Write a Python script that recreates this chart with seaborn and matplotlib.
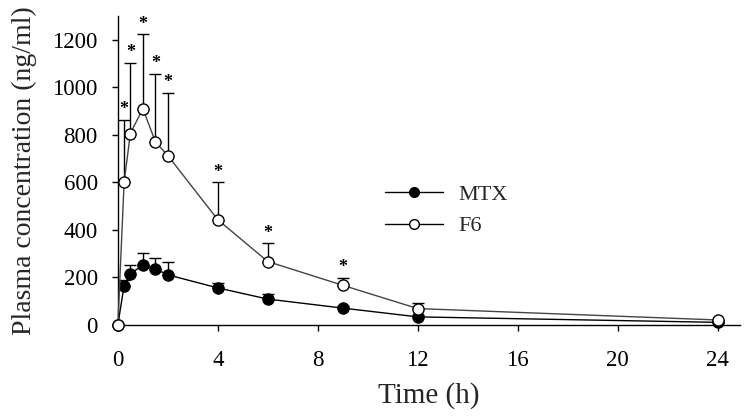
import matplotlib
matplotlib.use("Agg")
import matplotlib.pyplot as plt
from matplotlib.lines import Line2D
import seaborn as sns
import pandas as pd
import numpy as np

time_h = [0, 0.25, 0.5, 1, 1.5, 2, 4, 6, 9, 12, 24]
mtx_mean = [0, 165, 215, 250, 235, 210, 155, 108, 70, 33, 10]
mtx_sd = [0, 22, 38, 52, 48, 53, 20, 20, 8, 10, 0]
f6_mean = [0, 600, 805, 910, 770, 712, 442, 266, 166, 68, 20]
f6_sd = [0, 262, 298, 312, 287, 265, 157, 76, 30, 24, 0]
f6_sig = [False, True, True, True, True, True, True, True, True, False, False]

x_ticks = [0, 4, 8, 12, 16, 20, 24]
y_ticks = [0, 200, 400, 600, 800, 1000, 1200]

sns.set_style("ticks")
plt.rcParams["font.family"] = ["Liberation Serif", "DejaVu Serif"]

df = pd.DataFrame({
    "time": time_h * 2,
    "conc": mtx_mean + f6_mean,
    "group": ["MTX"] * len(time_h) + ["F6"] * len(time_h),
})

fig = plt.figure(figsize=(7.46, 4.19), dpi=100)
ax = fig.add_axes([0.158, 0.225, 0.834, 0.737])

# error bars (upper only)
ax.errorbar(time_h, mtx_mean, yerr=[np.zeros(len(time_h)), mtx_sd], fmt="none",
            ecolor="black", elinewidth=1.0, capsize=4.5, capthick=1.0, zorder=1)
ax.errorbar(time_h, f6_mean, yerr=[np.zeros(len(time_h)), f6_sd], fmt="none",
            ecolor="black", elinewidth=1.0, capsize=4.5, capthick=1.0, zorder=1)

sns.lineplot(data=df[df.group == "MTX"], x="time", y="conc", ax=ax, color="black",
             linewidth=1.0, marker="o", markersize=8, markerfacecolor="black",
             markeredgecolor="black", markeredgewidth=1.0, zorder=3, clip_on=False,
             legend=False)
sns.lineplot(data=df[df.group == "F6"], x="time", y="conc", ax=ax, color="#444444",
             linewidth=1.0, marker="o", markersize=8, markerfacecolor="white",
             markeredgecolor="black", markeredgewidth=1.0, zorder=4, clip_on=False,
             legend=False)

for t, m, s, sig in zip(time_h, f6_mean, f6_sd, f6_sig):
    if sig:
        ax.text(t, m + s + 8, "*", ha="center", va="bottom", fontsize=13,
                fontweight="bold", color="black")

ax.set_xlim(0, 24.9)
ax.set_ylim(0, 1300)
ax.set_xticks(x_ticks)
ax.set_yticks(y_ticks)
ax.tick_params(axis="both", labelsize=16.5, length=4.5, width=1, direction="out", colors="black")
ax.tick_params(axis="y", pad=10)
ax.tick_params(axis="x", pad=14)
for sp in ["top", "right"]:
    ax.spines[sp].set_visible(False)
for sp in ["left", "bottom"]:
    ax.spines[sp].set_linewidth(1.0)
    ax.spines[sp].set_color("black")

ax.set_xlabel("Time (h)", fontsize=21, labelpad=8)
ax.set_ylabel("Plasma concentration (ng/ml)", fontsize=20, labelpad=11)

handles = [
    Line2D([], [], color="black", lw=1.0, marker="o", markersize=7,
           markerfacecolor="black", markeredgecolor="black"),
    Line2D([], [], color="black", lw=1.0, marker="o", markersize=7,
           markerfacecolor="white", markeredgecolor="black"),
]
ax.legend(handles, ["MTX", "F6"], loc="upper left", bbox_to_anchor=(0.397, 0.52),
          frameon=False, fontsize=16, handlelength=2.6, handletextpad=0.7,
          labelspacing=0.5)

fig.savefig("out.png", dpi=100)
